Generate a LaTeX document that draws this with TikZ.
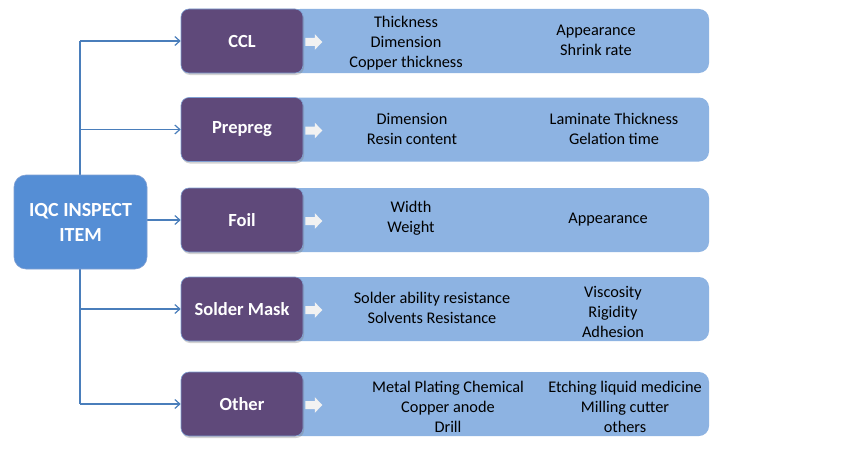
\documentclass[tikz,border=0pt]{standalone}
\usepackage{fontspec}
\setmainfont{Carlito}
\usetikzlibrary{arrows.meta,shadows}
\definecolor{purp}{HTML}{5F497A}
\definecolor{barblue}{HTML}{8DB3E2}
\definecolor{mainblue}{HTML}{558ED5}
\definecolor{linkblue}{HTML}{4A7EBB}
\definecolor{edgeblue}{HTML}{7F9FD3}
\definecolor{arrowwhite}{HTML}{F2F2F2}
\tikzset{
  catbox/.style={fill=purp, draw=edgeblue, line width=0.6pt, rounded corners=8pt,
    minimum width=122, minimum height=64, inner sep=0pt, text=white,
    font=\fontsize{18.5}{22}\selectfont\bfseries,
    drop shadow={shadow xshift=1pt, shadow yshift=-2pt, opacity=0.35}},
  barbox/.style={fill=barblue, draw=none, rounded corners=10pt,
    minimum width=419, minimum height=64, inner sep=0pt},
  rootbox/.style={fill=mainblue, draw=edgeblue, line width=0.6pt, rounded corners=12pt,
    minimum width=133, minimum height=94, inner sep=0pt, text=white, align=center,
    font=\fontsize{20}{25}\selectfont\bfseries},
  itemtext/.style={align=center, inner sep=0pt, text=black, yshift=-1.5pt,
    font=\fontsize{16.3}{20}\selectfont},
  conn/.style={draw=linkblue, line width=1.4pt},
  connarrow/.style={conn, -{Straight Barb[length=5pt,width=9pt,line width=1.2pt]}},
  blockarrow/.pic={
    \fill[arrowwhite] (0,-4) -- (9.5,-4) -- (9.5,-7.8) -- (17,0) -- (9.5,7.8)
      -- (9.5,4) -- (0,4) -- cycle;
  }
}
\begin{document}
\begin{tikzpicture}[x=1pt,y=-1pt]
\useasboundingbox (0,0) rectangle (850,460);
\fill[white] (0,0) rectangle (850,460);

% bars
\node[barbox] (b1) at (499.5,41) {};
\node[barbox] (b2) at (499.5,129.5) {};
\node[barbox] (b3) at (499.5,220) {};
\node[barbox] (b4) at (499.5,309) {};
\node[barbox] (b5) at (499.5,404) {};

% category boxes
\node[catbox] (p1) at (242,41) {CCL};
\node[catbox] (p2) at (242,129.5) {Prepreg};
\node[catbox] (p3) at (242,220) {Foil};
\node[catbox] (p4) at (242,309) {Solder Mask};
\node[catbox] (p5) at (242,404) {Other};

% white arrows
\pic at ([xshift=2pt,yshift=-1pt]p1.east) {blockarrow};
\pic at ([xshift=2pt,yshift=-1pt]p2.east) {blockarrow};
\pic at ([xshift=2pt,yshift=-1pt]p3.east) {blockarrow};
\pic at ([xshift=2pt,yshift=-1pt]p4.east) {blockarrow};
\pic at ([xshift=2pt,yshift=-1pt]p5.east) {blockarrow};

% trunk
\coordinate (t1) at (80,41);
\coordinate (t2) at (80,129.5);
\coordinate (t3) at (80,220);
\coordinate (t4) at (80,309);
\coordinate (t5) at (80,404);
\draw[conn] (t1) -- (t5);
\draw[connarrow] (t1) -- (p1.west);
\draw[connarrow] (t2) -- (p2.west);
\draw[connarrow] (t3) -- (p3.west);
\draw[connarrow] (t4) -- (p4.west);
\draw[connarrow] (t5) -- (p5.west);

% root box
\node[rootbox] (root) at (80.5,222) {IQC INSPECT\\ITEM};

% items
\node[itemtext] (c1a) at (406,42) {Thickness\\Dimension\\Copper thickness};
\node[itemtext] (c1b) at (596,39) {Appearance\\Shrink rate};
\node[itemtext] (c2a) at (412,127) {Dimension\\Resin content};
\node[itemtext] (c2b) at (614,127) {Laminate Thickness\\Gelation time};
\node[itemtext] (c3a) at (411,217) {Width\\Weight};
\node[itemtext] (c3b) at (608,218) {Appearance};
\node[itemtext] (c4a) at (432,306) {Solder ability resistance\\Solvents Resistance};
\node[itemtext] (c4b) at (613,310) {Viscosity\\Rigidity\\Adhesion};
\node[itemtext] (c5a) at (448,405) {Metal Plating Chemical\\Copper anode\\Drill};
\node[itemtext] (c5b) at (625,405) {Etching liquid medicine\\Milling cutter\\others};
\end{tikzpicture}
\end{document}
